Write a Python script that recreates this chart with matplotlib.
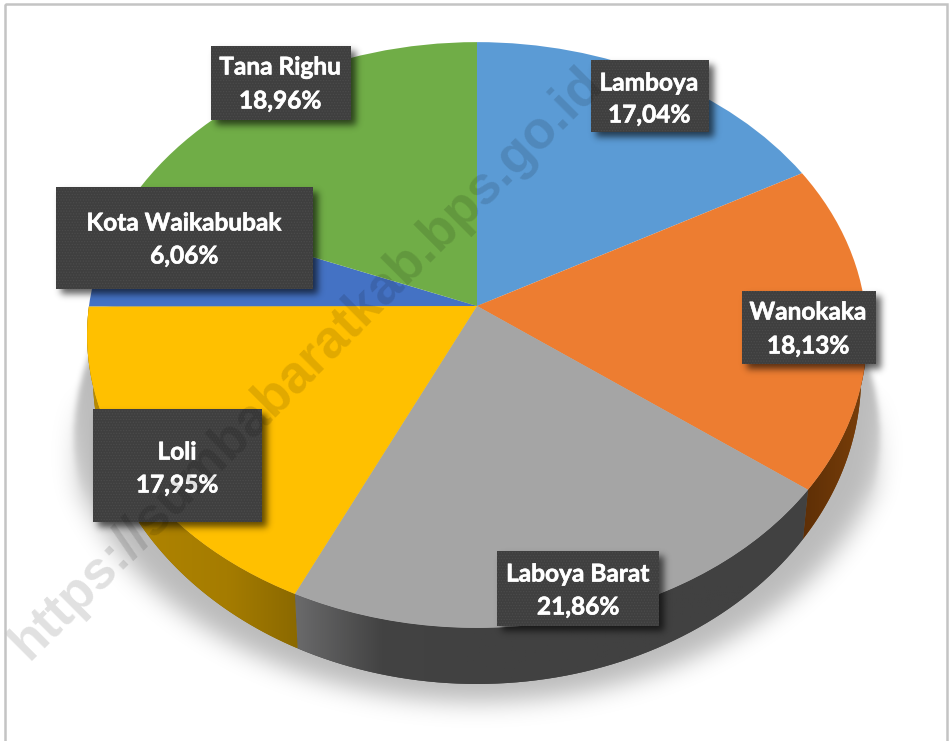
import numpy as np
import matplotlib
matplotlib.use("Agg")
import matplotlib.pyplot as plt
import matplotlib.patheffects as pe
from matplotlib.transforms import Transform
from matplotlib.path import Path
from matplotlib.patches import Rectangle, Polygon
from matplotlib.colors import LinearSegmentedColormap

# ---- data ----
names = ["Lamboya", "Wanokaka", "Laboya Barat", "Loli", "Kota Waikabubak", "Tana Righu"]
values = [17.04, 18.13, 21.86, 17.95, 6.06, 18.96]
value_labels = ["17,04%", "18,13%", "21,86%", "17,95%", "6,06%", "18,96%"]
colors = ["#5B9BD5", "#ED7D31", "#A5A5A5", "#FFC000", "#4472C4", "#70AD47"]
watermark = "https://sumbabaratkab.bps.go.id"

# label boxes in pixels: left, right, top, bottom
boxes = [(591, 709, 60, 132), (742, 876, 291, 364), (497, 659, 551, 626),
         (93, 262, 409, 522), (56, 313, 187, 289), (211, 351, 46, 120)]
name_y = [83, 312, 574, 452, 223, 67]
value_y = [115, 346, 607, 485, 256, 101]
box_x = [649, 808, 578, 177, 184, 280]

W, H = 951, 741
CX, CY, A, B, K = 477, 306, 388, 290, 0.099   # perspective of the pie's top face


def project(x, y):
    d = 1 + K * y
    return CX + A * x / d, CY - B * y / d


def bottom_edge(x, y):
    px, py = project(x, y)
    return CX + (px - CX) * 0.985, CY + (py - CY) * 1.05 + 40


class Perspective(Transform):
    input_dims = output_dims = 2
    has_inverse = False

    def transform_non_affine(self, v):
        v = np.asarray(v, float)
        return np.column_stack(project(v[:, 0], v[:, 1]))


def blur(img, sigma):
    fy = np.fft.fftfreq(img.shape[0])[:, None]
    fx = np.fft.fftfreq(img.shape[1])[None, :]
    g = np.exp(-2 * (np.pi * sigma) ** 2 * (fx ** 2 + fy ** 2))
    return np.real(np.fft.ifft2(np.fft.fft2(img) * g))


def rgba(mask, alpha):
    out = np.zeros(mask.shape + (4,))
    out[..., 3] = np.clip(mask, 0, 1) * alpha
    return out


fig = plt.figure(figsize=(W / 100, H / 100), dpi=100)
ax = fig.add_axes([0, 0, 1, 1])

# ---- pie top face ----
wedges, _ = ax.pie(values, colors=colors, startangle=90, counterclock=False,
                   radius=1, center=(0, 0), wedgeprops=dict(linewidth=0))
ax.set_aspect("auto")
persp = Perspective() + ax.transData
for w in wedges:
    w.set_transform(persp)
    w.set_zorder(5)

edges = np.cumsum([0] + values) / 100 * 2 * np.pi

# ---- ground shadow: a cone that widens downward from the pie's sides ----
yy, xx = np.mgrid[0:H, 0:W]
pts = np.column_stack([xx.ravel() + .5, yy.ravel() + .5])
t = np.linspace(0, 2 * np.pi, 361)
sx, sy = bottom_edge(np.sin(t), np.cos(t))
fx_ = 1.0 + 0.085 * np.clip((sy - 300) / 170, 0, 1)
outline = Path(np.column_stack([CX + (sx - CX) * fx_, sy + 18]))
m = outline.contains_points(pts).reshape(H, W).astype(float)
m *= (yy > 300)
w_blur = np.clip((yy - 380) / 120, 0, 1)
m = w_blur * blur(m, 12) + (1 - w_blur) * blur(m, 3)
ax.imshow(rgba(m, 0.27), extent=(0, W, H, 0), aspect="auto", zorder=1, interpolation="bilinear")

# ---- side walls ----
wall_ramps = {
    1: ("#5e2f06", "#7a3f0a"),
    2: ("#6a6a6b", "#434343", "#414141", "#414141", "#414141", "#414141", "#414141"),
    3: ("#b98b00", "#ad8200", "#a57c00", "#8b6900"),
}
for i, ramp in wall_ramps.items():
    if i == 3:
        tt = np.linspace(edges[3], 1.5 * np.pi, 60)
    else:
        tt = np.linspace(edges[i], edges[i + 1], 60)
    if i == 1:
        tt = np.linspace(np.pi / 2, edges[2], 60)
    tx, ty = project(np.sin(tt), np.cos(tt))
    bx, by = bottom_edge(np.sin(tt), np.cos(tt))
    poly = np.column_stack([np.r_[tx, bx[::-1]], np.r_[ty, by[::-1]]])
    patch = Polygon(poly, closed=True, facecolor=ramp[-1], edgecolor="none", zorder=3)
    ax.add_patch(patch)
    x0, x1 = poly[:, 0].min(), poly[:, 0].max()
    y0, y1 = poly[:, 1].min(), poly[:, 1].max()
    cmap = LinearSegmentedColormap.from_list("w%d" % i, ramp)
    im = ax.imshow(np.linspace(0, 1, 256)[None, :], cmap=cmap,
                   extent=(x0, x1, y1, y0), aspect="auto", zorder=3.1)
    im.set_clip_path(patch)

# ---- label shadows ----
bm = np.zeros((H, W))
for (l, r, tp, bt) in boxes:
    bm[tp + 5:bt + 5, l + 5:r + 5] = 1
bm = blur(bm, 3.5)
ax.imshow(rgba(bm, 0.62), extent=(0, W, H, 0), aspect="auto", zorder=6, interpolation="bilinear")

# ---- label boxes and text ----
plt.rcParams["hatch.linewidth"] = 0.6
stroke = [pe.withStroke(linewidth=0.45, foreground="white")]
for i, (l, r, tp, bt) in enumerate(boxes):
    ax.add_patch(Rectangle((l, tp), r - l, bt - tp, facecolor="#3f3f3f", edgecolor="#4b4b4b",
                           hatch="......", linewidth=0, zorder=7))
    ax.text(box_x[i], name_y[i], names[i], ha="center", va="center", color="white",
            family="Lato", fontweight="bold", fontsize=17.6, zorder=8, path_effects=stroke)
    ax.text(box_x[i], value_y[i], value_labels[i], ha="center", va="center", color="white",
            family="Lato", fontweight="bold", fontsize=17.6, zorder=8, path_effects=stroke)

# ---- watermark ----
ax.text(306, 364, watermark, rotation=45, rotation_mode="anchor", ha="center", va="center",
        family="Liberation Sans", fontweight="bold", fontsize=38, color="black", alpha=0.12, zorder=9)

# ---- border ----
ax.add_patch(Rectangle((5, 4), 942, 760, fill=False, edgecolor="#c4c4c4", linewidth=1.8, zorder=10))

ax.set_xlim(0, W)
ax.set_ylim(H, 0)
ax.axis("off")
fig.savefig("out.png", dpi=100, facecolor="white")
